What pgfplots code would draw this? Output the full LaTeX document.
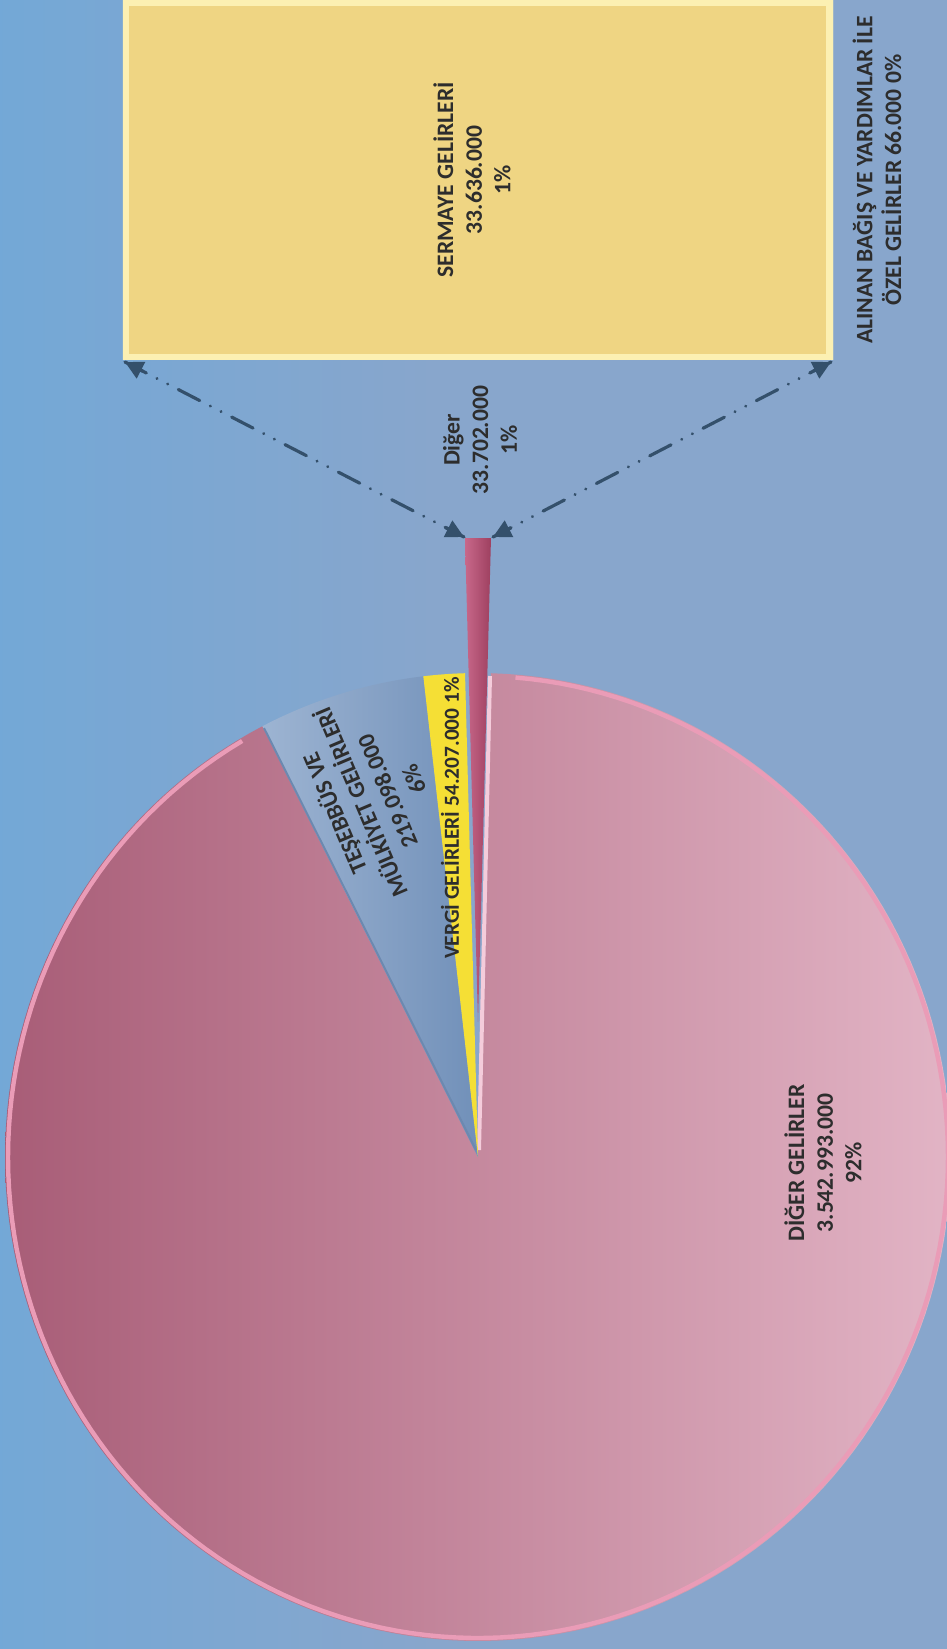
\documentclass[border=0pt]{standalone}
\usepackage{pgfplots}
\pgfplotsset{compat=1.18}
\usepackage{fontspec}
\setmainfont{Carlito}
\usetikzlibrary{arrows.meta}
\definecolor{bgA}{HTML}{5DAAE2}
\definecolor{bgB}{HTML}{88A6CC}
\definecolor{bgC}{HTML}{6AA6DA}
\definecolor{pinkL}{HTML}{A85D77}
\definecolor{pinkR}{HTML}{E2B4C5}
\definecolor{pinkRim}{HTML}{EA9CB7}
\definecolor{pinkHi}{HTML}{F4CCDB}
\definecolor{blueL}{HTML}{9DB4D2}
\definecolor{blueR}{HTML}{7190B9}
\definecolor{blueEdge}{HTML}{6C89B0}
\definecolor{yel}{HTML}{F5DF35}
\definecolor{digL}{HTML}{C8688A}
\definecolor{digR}{HTML}{9E4060}
\definecolor{barF}{HTML}{EFD583}
\definecolor{barE}{HTML}{FCF0B2}
\definecolor{conn}{HTML}{34506B}
\definecolor{txt}{HTML}{2D2D2D}
\pgfdeclarehorizontalshading{bgshade}{100bp}{color(0bp)=(bgA); color(48bp)=(bgB); color(78bp)=(bgB); color(100bp)=(bgC)}
% values in million TL
\def\vDG{3542.993}
\def\vTM{219.098}
\def\vVG{54.207}
\def\vDI{33.702}
\def\vSG{33.636}
\def\vAB{0.066}
\pgfmathsetmacro\tot{\vDG+\vTM+\vVG+\vDI}
\pgfmathsetmacro\aA{90-(\vDI/\tot)*180}
\pgfmathsetmacro\aB{\aA+(\vDI/\tot)*360}
\pgfmathsetmacro\aC{\aB+(\vVG/\tot)*360}
\pgfmathsetmacro\aD{\aC+(\vTM/\tot)*360}
\pgfmathsetmacro\aE{\aA+360}
\def\cx{478}
\def\cy{1157}
\def\rx{473}
\def\ry{484}
\def\cyD{1022}
\tikzset{
  connline/.style={conn,line width=1.6pt,line cap=round,
    dash pattern=on 12pt off 6pt on 0.01pt off 6pt on 0.01pt off 6pt},
  connhead/.style={conn,line width=1.6pt,solid,-{Triangle[length=9pt,width=9pt]}}
}
\begin{document}
\begin{tikzpicture}
\useasboundingbox (0,0) rectangle (473.5pt,824.5pt);
\shade[shading=bgshade] (0,0) rectangle (473.5pt,824.5pt);
\begin{axis}[at={(0,0)},anchor=south west,scale only axis,
  width=473.5pt,height=824.5pt,xmin=0,xmax=947,ymin=0,ymax=1649,
  y dir=reverse,hide axis,clip=true]
% pink slice
\addplot[left color=pinkL,right color=pinkR,draw=none,domain=\aD:\aE,samples=180,variable=\t]
  ({\cx+\rx*cos(t)},{\cy-\ry*sin(t)}) -- (\cx,\cy) -- cycle;
\addplot[draw=pinkRim,line width=2.2pt,domain=\aD+3:\aE-3,samples=180,variable=\t]
  ({\cx+(\rx-3)*cos(t)},{\cy-(\ry-3)*sin(t)});
\addplot[draw=pinkHi,line width=2pt] coordinates {(479,1150) (490,676)};
% blue slice
\addplot[left color=blueL,right color=blueR,draw=none,domain=\aC:\aD,samples=30,variable=\t]
  ({\cx+\rx*cos(t)},{\cy-\ry*sin(t)}) -- (\cx,\cy) -- cycle;
\addplot[draw=blueEdge,line width=1pt] coordinates {(476,1150) (264,728)};
% yellow slice
\addplot[fill=yel,draw=none,domain=\aB:\aC,samples=10,variable=\t]
  ({\cx+\rx*cos(t)},{\cy-\ry*sin(t)}) -- (\cx,\cy) -- cycle;
% exploded Diger slice
\addplot[left color=digL,right color=digR,draw=none,domain=\aA:\aB,samples=8,variable=\t]
  ({\cx+\rx*cos(t)},{\cyD-\ry*sin(t)}) -- (\cx,\cyD) -- cycle;
% connectors
\addplot[connline] coordinates {(125,362) (464,537)};
\addplot[connline] coordinates {(831,362) (493,537)};
\addplot[connhead] coordinates {(446.2,527.8) (464,537)};
\addplot[connhead] coordinates {(142.8,371.2) (125,362)};
\addplot[connhead] coordinates {(510.8,527.8) (493,537)};
\addplot[connhead] coordinates {(813.2,371.2) (831,362)};
\end{axis}
\begin{axis}[at={(61.5pt,644.5pt)},anchor=south west,scale only axis,
  width=355pt,height=180pt,xmin=0,xmax=33.702,x dir=reverse,
  ymin=-0.5,ymax=0.5,hide axis,xbar stacked,bar width=1,clip=true]
\addplot[fill=barF,draw=barE,line width=6pt] coordinates {(\vAB,0)};
\addplot[fill=barF,draw=barE,line width=6pt] coordinates {(\vSG,0)};
\end{axis}
\tikzset{lab/.style={text=txt,align=center,font=\bfseries\fontsize{11.8}{14.3}\selectfont,inner sep=0pt}}
\node[lab,rotate=90] at (411.5pt,243pt) {DİĞER GELİRLER\\3.542.993.000\\92\%};
\node[lab,rotate=113] at (186.5pt,426pt) {TEŞEBBÜS VE\\MÜLKİYET GELİRLERİ\\219.098.000\\6\%};
\node[lab,rotate=90,font=\bfseries\fontsize{10.7}{13}\selectfont] at (225pt,415.5pt) {VERGİ GELİRLERİ 54.207.000 1\%};
\node[lab,rotate=90] at (240pt,604.5pt) {Diğer\\33.702.000\\1\%};
\node[lab,rotate=90] at (236pt,734.5pt) {SERMAYE GELİRLERİ\\33.636.000\\1\%};
\node[lab,rotate=90] at (438.5pt,734.5pt) {ALINAN BAĞIŞ VE YARDIMLAR İLE\\ÖZEL GELİRLER 66.000 0\%};
\end{tikzpicture}
\end{document}
